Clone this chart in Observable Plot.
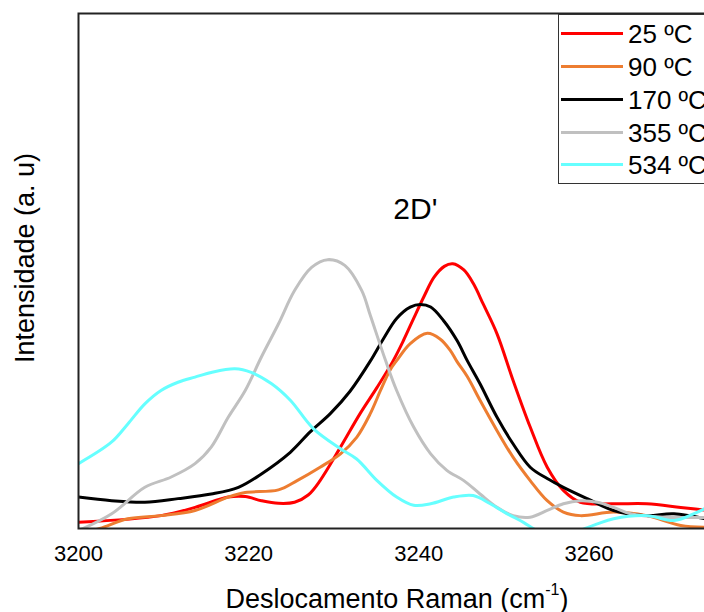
<!DOCTYPE html>
<html><head><meta charset="utf-8">
<script src="https://cdn.jsdelivr.net/npm/d3@7"></script>
<script src="https://cdn.jsdelivr.net/npm/@observablehq/plot@0.6"></script>
<style>
html,body{margin:0;padding:0;background:#fff;overflow:hidden;width:704px;height:612px}
#wrap{position:relative;width:720px;height:612px;font-family:"Liberation Sans",Arial,sans-serif;color:#000}
#legend{position:absolute;left:558px;top:14px;width:170px;height:170px;border:1px solid #333;background:#fff;box-sizing:border-box}
.row{position:absolute;left:0;height:30px;width:170px}
.row .ln{position:absolute;left:2px;width:62px;height:3px;top:13px}
.row .tx{position:absolute;left:69px;top:0;font-size:26px;line-height:30px;white-space:nowrap}
#xlabel{position:absolute;left:97px;width:600px;text-align:center;top:578px;font-size:27px;line-height:30px}
#xlabel sup{font-size:16px;position:relative;top:-3px}
</style></head>
<body><div id="wrap"><div id="chart"></div><div id="legend"></div>
<div id="xlabel">Deslocamento Raman (cm<sup>-1</sup>)</div></div>
<script>
const seriesNames = ["25 ºC", "90 ºC", "170 ºC", "355 ºC", "534 ºC"];
const seriesColors = ["#ff0000", "#ed7d31", "#000000", "#c0c0c0", "#66ffff"];
const xTicks = [3200, 3220, 3240, 3260];

const x25 = [3200, 3209.7, 3213.7, 3217.6, 3219.6, 3221.5, 3223.5, 3225.4, 3227.0, 3228.4, 3230.8, 3233.1, 3235.1, 3237.0, 3238.2, 3239.4, 3240.6, 3241.8, 3243.0, 3244.0, 3245.3, 3246.4, 3247.6, 3249.2, 3251.1, 3253.1, 3255.1, 3257.0, 3259.0, 3262.9, 3266.8, 3270.8, 3275];
const y25 = [1.2, 2.5, 4.1, 6.1, 6.2, 5.4, 4.9, 5.1, 6.5, 9.3, 15.8, 22.3, 27.4, 32.6, 36.5, 40.8, 45.0, 48.8, 50.9, 51.4, 50.2, 47.6, 43.5, 37.8, 28.7, 19.7, 11.9, 7.4, 5.1, 4.8, 4.8, 4.1, 3.3];

const x90 = [3200, 3202.5, 3205.8, 3209.7, 3213.7, 3217.6, 3219.6, 3223.5, 3225.7, 3228.4, 3230.8, 3232.7, 3234.3, 3235.5, 3236.6, 3237.4, 3239.0, 3241.0, 3242.5, 3243.7, 3244.5, 3245.7, 3247.2, 3249.2, 3251.1, 3253.1, 3255.1, 3257.0, 3259.0, 3262.9, 3266.8, 3270.8, 3275];
const y90 = [-1.0, 0.0, 1.9, 2.5, 3.5, 6.1, 7.0, 7.5, 9.3, 11.9, 14.5, 17.7, 22.3, 26.8, 30.7, 32.6, 35.9, 37.9, 36.8, 34.6, 32.4, 29.5, 24.9, 19.0, 13.8, 9.3, 5.4, 3.2, 2.5, 3.2, 2.5, 0.6, 0.2];

const x170 = [3200, 3203.9, 3207.8, 3211.7, 3215.6, 3218.8, 3221.5, 3224.9, 3227.2, 3229.6, 3231.9, 3234.3, 3235.9, 3237.4, 3239.0, 3240.2, 3241.4, 3242.9, 3244.5, 3245.7, 3247.2, 3249.2, 3251.1, 3253.1, 3255.1, 3257.0, 3259.8, 3262.9, 3266.8, 3270.0, 3275];
const y170 = [6.1, 5.4, 5.1, 5.8, 6.7, 8.0, 10.6, 14.8, 18.7, 22.3, 26.6, 32.5, 37.0, 40.8, 43.0, 43.5, 43.0, 40.4, 36.5, 32.6, 28.1, 21.6, 16.4, 11.9, 9.7, 8.0, 5.8, 3.5, 2.5, 2.85, 1.4];

const x355 = [3200, 3203.9, 3207.8, 3210.9, 3213.7, 3215.6, 3217.6, 3219.6, 3221.5, 3223.5, 3225.4, 3227.4, 3229.3, 3231.3, 3233.3, 3234.3, 3236.1, 3237.4, 3239.4, 3241.4, 3243.3, 3245.3, 3247.2, 3249.2, 3251.1, 3253.1, 3255.1, 3257.0, 3259.0, 3261.0, 3262.9, 3264.9, 3268.8, 3275];
const y355 = [-0.4, 2.85, 8.0, 10.0, 12.6, 15.8, 21.6, 26.8, 33.3, 39.7, 46.2, 50.7, 52.2, 51.1, 46.2, 41.4, 32.6, 26.8, 19.7, 14.5, 11.3, 9.3, 6.7, 4.1, 2.5, 2.2, 3.5, 4.8, 5.4, 5.1, 4.1, 2.85, 2.2, 2.2];

const x534 = [3200, 3203.9, 3205.8, 3207.8, 3209.7, 3211.7, 3213.7, 3215.6, 3218.4, 3220.3, 3222.7, 3224.9, 3227.6, 3230.8, 3232.7, 3235.1, 3237.4, 3239.4, 3241.4, 3244.1, 3246.4, 3248.4, 3250.4, 3252.3, 3253.9, 3256.0, 3258.0, 3259.0, 3261.0, 3262.9, 3266.8, 3270.0, 3272.3, 3275];
const y534 = [12.6, 16.8, 20.3, 24.2, 26.8, 28.4, 29.4, 30.3, 31.0, 30.3, 28.1, 24.9, 19.4, 15.5, 13.5, 9.3, 6.1, 4.5, 4.8, 6.1, 6.4, 4.8, 2.85, 1.2, -0.4, -1.5, -1.5, -0.4, 0.9, 1.9, 2.5, 1.55, 2.85, 5.0];

const xs = [x25, x90, x170, x355, x534];
const ys = [y25, y90, y170, y355, y534];
const rows = [];
seriesNames.forEach((name, i) => xs[i].forEach((x, j) => rows.push({series: name, x, y: ys[i][j]})));

const annotation = [{x: 3239.6, y: 62, label: "2D'"}];
const yLabel = ["Intensidade (a. u)"];

const chart = Plot.plot({
  width: 720, height: 570,
  marginLeft: 78, marginRight: 4, marginTop: 13, marginBottom: 42,
  style: {fontFamily: '"Liberation Sans", Arial, sans-serif', background: "#fff", color: "#000"},
  x: {domain: [3200, 3275]},
  y: {domain: [0, 100], axis: null},
  color: {domain: seriesNames, range: seriesColors},
  marks: [
    Plot.line(rows, {x: "x", y: "y", z: "series", stroke: "series", strokeWidth: 3, curve: "catmull-rom", clip: true}),
    Plot.frame({stroke: "#222", strokeWidth: 2}),
    Plot.axisX({ticks: xTicks, tickSize: 0, tickPadding: 17, fontSize: 22, label: null, tickFormat: d => String(d)}),
    Plot.text(annotation, {x: "x", y: "y", text: "label", fontSize: 30, fill: "#000"}),
    Plot.text(yLabel, {text: d => d, frameAnchor: "left", textAnchor: "middle", rotate: -90, dx: -53, dy: -13, fontSize: 27, fill: "#000"})
  ]
});
document.getElementById("chart").appendChild(chart);

const legend = document.getElementById("legend");
const rowTops = [4, 37, 70, 103, 135];
seriesNames.forEach((name, i) => {
  const r = document.createElement("div");
  r.className = "row";
  r.style.top = rowTops[i] + "px";
  r.innerHTML = `<div class="ln" style="background:${seriesColors[i]}"></div><div class="tx">${name}</div>`;
  legend.appendChild(r);
});
</script></body></html>
